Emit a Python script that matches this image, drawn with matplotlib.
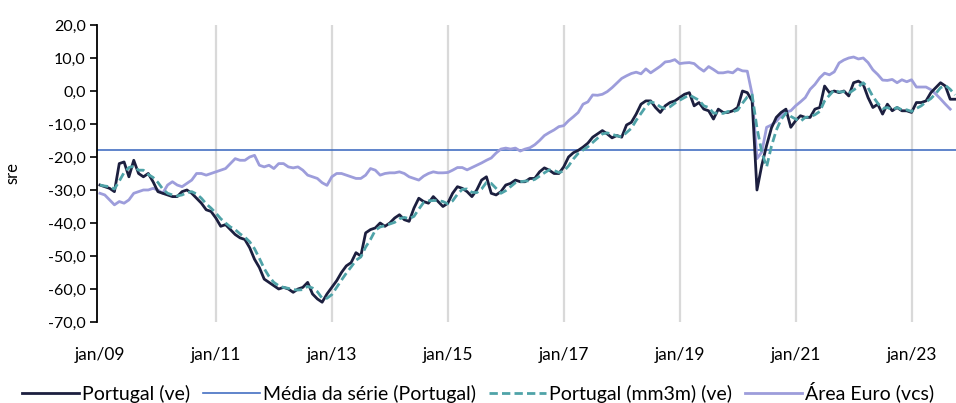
import numpy as np
import matplotlib
matplotlib.use("Agg")
import matplotlib.pyplot as plt

# ---------------- data (monthly, jan/09 onward) ----------------
portugal_ve = [
    -28.5, -29, -29.5, -30.5, -22, -21.5, -26, -21, -25, -26, -25, -27.5,          # 2009
    -30.5, -31, -31.5, -32, -32, -30.5, -30, -31, -32.5, -34, -36, -36.5,          # 2010
    -38.5, -41, -40.5, -42, -43.5, -44.5, -45, -47.5, -51, -53.5, -57, -58,        # 2011
    -59, -60, -59.5, -60, -61, -60, -59.5, -58, -61.5, -63, -64, -61.5,            # 2012
    -59.5, -57.5, -55, -53, -52, -49, -50, -43, -42, -41.5, -40, -41,              # 2013
    -40, -38.5, -37.5, -39, -39.5, -35.5, -32.5, -33.5, -34, -32, -33.5, -35,      # 2014
    -34, -31, -29, -29.5, -30.5, -32, -30, -27, -26, -31, -31.5, -30.5,            # 2015
    -28.5, -28, -27, -27.5, -27.5, -26.5, -26.5, -24.5, -23.3, -24, -25, -25,      # 2016
    -23, -20, -18.7, -18, -17, -15.8, -14, -13, -12, -13, -14.2, -13.5,            # 2017
    -14, -10.3, -9.5, -7, -4, -3, -3, -5, -6.5, -4.5, -3.5, -3,                    # 2018
    -2, -1, -0.5, -4.5, -3.5, -5.5, -6, -8.5, -5.5, -6.5, -6.5, -6,                # 2019
    -5, 0, -0.5, -3, -30, -22.5, -16.5, -11.2, -8, -6.5, -5.5, -11,                # 2020
    -9, -7.5, -8, -8, -5.5, -5, 1.5, -0.5, 0, -0.5, 0, -1.5,                       # 2021
    2.5, 3, 2, -2, -5, -4, -7, -4, -6, -5, -6, -6,                                 # 2022
    -6.5, -3.5, -3.5, -3, -0.5, 1, 2.5, 1.5, -2.5, -2.5,                           # 2023
]

portugal_mm3m = [
    -28.5, -28.8, -29, -29.7, -27.3, -24.7, -23.2, -22.8, -24, -24, -25.3, -26.2,
    -27.7, -29.7, -31, -31.5, -31.8, -31.5, -30.8, -30.5, -31.2, -32.5, -34.2, -35.5,
    -37, -38.7, -40, -41.2, -42, -43.3, -44.3, -45.7, -47.8, -50.7, -53.8, -56.2,
    -58, -59, -59.5, -59.8, -60.2, -60.3, -60.2, -59.2, -59.7, -60.8, -62.8, -62.8,
    -61.7, -59.5, -57.3, -55.2, -53.3, -51.3, -50.3, -47.3, -45, -42.2, -41.2, -40.8,
    -40.3, -39.8, -38.7, -38.3, -38.7, -38, -35.8, -33.8, -33.3, -33.2, -33.2, -33.5,
    -34.2, -33.3, -31.3, -29.8, -29.7, -30.7, -30.8, -29.7, -27.7, -28, -29.5, -31,
    -30.2, -29, -27.8, -27.5, -27.3, -27.2, -26.8, -25.8, -24.8, -23.9, -24.1, -24.7,
    -24.3, -22.7, -20.6, -18.9, -17.9, -16.9, -15.6, -14.3, -13, -12.7, -13.1, -13.6,
    -13.9, -12.6, -11.3, -8.9, -6.8, -4.7, -3.3, -3.7, -4.8, -5.3, -4.8, -3.7,
    -2.8, -2, -1.2, -2, -2.8, -4.5, -5, -6.7, -6.7, -6.8, -6.2, -6.3,
    -5.8, -3.7, -1.8, -1.2, -11.2, -18.5, -23, -16.7, -11.9, -8.6, -6.7, -7.7,
    -8.5, -9.2, -8, -7.8, -7.2, -6.2, -3, -1.3, 0.3, -0.3, -0.2, -0.7,
    0.3, 1.3, 2.5, 1, -1.7, -3.7, -5.3, -5, -5.7, -5, -5.7, -5.7,
    -6.2, -5.3, -4.5, -3.3, -2.3, -0.8, 1, 1.7, 0.5, -1.2,
]

area_euro_vcs = [
    -31, -31.5, -33, -34.5, -33.5, -34, -33, -31, -30.5, -30, -30, -29.5,          # 2009
    -30, -31, -28.5, -27.5, -28.5, -29, -28, -27, -25, -25, -25.5, -25,            # 2010
    -24.5, -24, -23.5, -22, -20.5, -21, -21, -20, -19.5, -22.5, -23, -22.5,        # 2011
    -23.5, -22, -22, -23, -23.3, -23, -24, -25.5, -26, -26.5, -27.8, -28.6,        # 2012
    -26, -25, -25, -25.5, -26, -26.5, -26.5, -25.5, -23.5, -24, -25.5, -25,        # 2013
    -24.8, -24.8, -24.5, -25, -26, -26.5, -27, -25.8, -25, -24.5, -24.8, -24.8,    # 2014
    -24.7, -24, -23.2, -23.2, -23.9, -23.2, -22.5, -21.8, -21, -20.3, -18.8, -17.6,  # 2015
    -17.3, -17.6, -17.3, -18.2, -17.6, -17.2, -16.3, -15, -13.5, -12.6, -11.8, -10.8,  # 2016
    -10.5, -9, -7.8, -6.5, -4, -3.3, -1.2, -1.3, -1, -0.2, 1, 2.4,                 # 2017
    3.8, 4.6, 5.3, 5.7, 5.2, 6.7, 5.5, 6.5, 7.5, 8.8, 9, 9.5,                      # 2018
    8.3, 8.5, 8.6, 8.3, 7, 6, 7.4, 6.5, 5.5, 5.5, 5.8, 5.5,                        # 2019
    6.7, 6.1, 6, -1, -20.5, -18.5, -11, -10.3, -9.2, -7.5, -6.3, -6,               # 2020
    -4.5, -3.3, -2, 0.5, 2, 4, 5.4, 4.9, 5.8, 8.5, 9.4, 10,                        # 2021
    10.3, 9.7, 10, 8.6, 6.4, 5, 3.3, 3.2, 3.5, 2.5, 3.4, 2.8,                      # 2022
    3.4, 1.2, 1.2, 1.2, 0.4, -0.9, -2.4, -4, -5.5,                                 # 2023
]

media_portugal = -18.0

tick_months = [0, 24, 48, 72, 96, 120, 144, 168]
tick_labels = ["jan/09", "jan/11", "jan/13", "jan/15", "jan/17", "jan/19", "jan/21", "jan/23"]
y_ticks = [-70, -60, -50, -40, -30, -20, -10, 0, 10, 20]
y_tick_labels = ["-70,0", "-60,0", "-50,0", "-40,0", "-30,0", "-20,0", "-10,0", "0,0", "10,0", "20,0"]

legend_labels = ["Portugal (ve)", "Média da série (Portugal)", "Portugal (mm3m) (ve)", "Área Euro (vcs)"]

# ---------------- plot ----------------
plt.rcParams["font.family"] = ["Lato", "DejaVu Sans"]

fig = plt.figure(figsize=(9.56, 4.03), dpi=100)
ax = fig.add_axes([0.1015, 0.201, 0.8985, 0.737])

x_pt = np.arange(len(portugal_ve))
x_mm = np.arange(len(portugal_mm3m))
x_eu = np.arange(len(area_euro_vcs))

for t in tick_months[1:]:
    ax.axvline(t, color="#d9d9d9", lw=1.6, zorder=0)

l1, = ax.plot(x_pt, portugal_ve, color="#1c1f3f", lw=2.0, zorder=3)
l2 = ax.axhline(media_portugal, color="#4470c2", lw=1.2, zorder=2)
l3, = ax.plot(x_mm, portugal_mm3m, color="#4fa3a8", lw=2.0, ls=(0, (3, 1.5)), zorder=4)
l4, = ax.plot(x_eu, area_euro_vcs, color="#9d9ddb", lw=2.0, zorder=2.5)

ax.set_xlim(-0.6, 177.2)
ax.set_ylim(-70, 20)
ax.set_yticks(y_ticks)
ax.set_yticklabels(y_tick_labels, fontsize=11.5)
ax.set_xticks(tick_months)
ax.set_xticklabels(tick_labels, fontsize=12.5)
ax.tick_params(axis="x", length=0, pad=18)
ax.tick_params(axis="y", length=5, width=1.2, direction="out", pad=3)

for s in ["top", "right", "bottom"]:
    ax.spines[s].set_visible(False)
ax.spines["left"].set_color("#000000")
ax.spines["left"].set_linewidth(1.3)

ax.set_ylabel("sre", fontsize=12, labelpad=20)

fig.legend([l1, l2, l3, l4], legend_labels, loc="center", bbox_to_anchor=(0.5, 0.027),
           ncol=4, frameon=False, fontsize=14, handlelength=2.9, handletextpad=0.15,
           columnspacing=0.7)

fig.savefig("out.png", dpi=100)
